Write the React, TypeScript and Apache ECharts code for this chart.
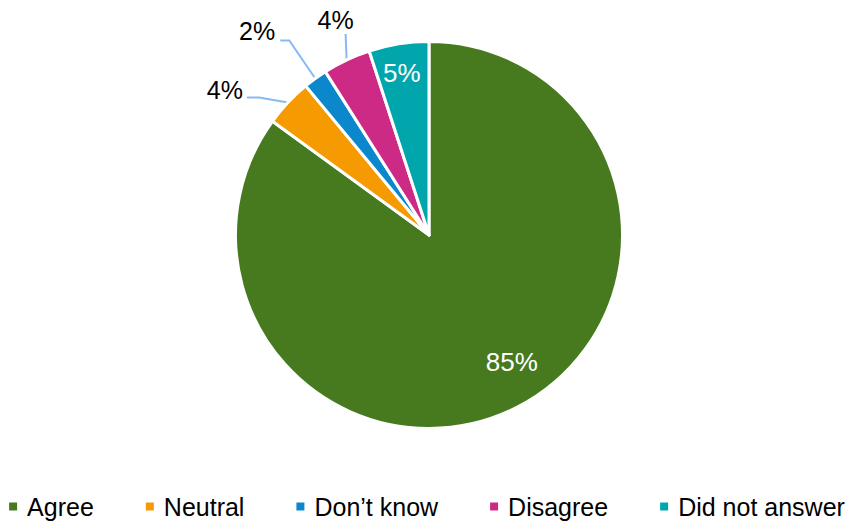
import React, { useEffect, useRef } from "react";
import * as echarts from "echarts";

const categories = ["Agree", "Neutral", "Don’t know", "Disagree", "Did not answer"];
const values = [85, 4, 2, 4, 5];
const colors = ["#477A1E", "#F59A00", "#0A88CB", "#CC2A85", "#00A6AC"];

const FONT = "Liberation Sans, Arial, sans-serif";
const CX = 429;
const CY = 235;
const R = 193.5;

// label placement: inside labels (radius fraction, angle offset in degrees)
const insidePlacement: Record<number, { frac: number; dAngle: number }> = {
  0: { frac: 0.785, dAngle: -6 },
  4: { frac: 0.85, dAngle: -0.5 },
};
// outside labels: leader-line bends relative to the slice edge point, and label anchor
const outsidePlacement: Record<
  number,
  { bend: number[]; end: number[]; label: number[]; align: string }
> = {
  1: { bend: [-29, -5], end: [-41, -5], label: [-45, -13], align: "right" },
  2: { bend: [-26, -38], end: [-35, -38], label: [-40, -47], align: "right" },
  3: { bend: [-0.5, -13], end: [-1, -26], label: [-11, -40], align: "center" },
};

function edgePoint(i: number): number[] {
  const total = values.reduce((a, b) => a + b, 0);
  let before = 0;
  for (let k = 0; k < i; k++) before += values[k];
  const mid = ((before + values[i] / 2) / total) * Math.PI * 2;
  return [CX + R * Math.sin(mid), CY - R * Math.cos(mid)];
}

export default function App() {
  const ref = useRef<HTMLDivElement>(null);
  useEffect(() => {
    document.body.style.margin = "0";
    if (!ref.current) return;
    const chart = echarts.init(ref.current, undefined, { renderer: "svg" });
    const data = categories.map((name, i) => {
      const inside = i === 0 || i === 4;
      return {
        name,
        value: values[i],
        itemStyle: { color: colors[i] },
        label: inside
          ? { position: "inside", color: "#ffffff", fontSize: 26 }
          : { position: "outside", color: "#000000", fontSize: 25 },
        labelLine: { show: !inside },
      };
    });
    chart.setOption({
      animation: false,
      legend: {
        data: categories,
        left: "center",
        top: 489,
        icon: "rect",
        itemWidth: 10,
        itemHeight: 10,
        itemGap: 50,
        textStyle: {
          fontSize: 25,
          fontFamily: FONT,
          color: "#000000",
          padding: [0, 0, 0, 4],
        },
      },
      series: [
        {
          type: "pie",
          center: [CX, CY],
          radius: R,
          startAngle: 90,
          clockwise: true,
          avoidLabelOverlap: false,
          itemStyle: { borderColor: "#ffffff", borderWidth: 3 },
          label: {
            show: true,
            fontFamily: FONT,
            formatter: (p: any) => p.value + "%",
          },
          labelLine: {
            show: true,
            length: 20,
            length2: 10,
            lineStyle: { color: "#85BAF5", width: 2 },
          },
          emphasis: { disabled: true },
          labelLayout: (params: any) => {
            const i = params.dataIndex;
            if (insidePlacement[i]) {
              const pl = insidePlacement[i];
              const lr = params.labelRect;
              const lx = lr.x + lr.width / 2 - CX;
              const ly = lr.y + lr.height / 2 - CY;
              const ang = Math.atan2(lx, -ly) + (pl.dAngle * Math.PI) / 180;
              return {
                x: CX + R * pl.frac * Math.sin(ang),
                y: CY - R * pl.frac * Math.cos(ang),
                align: "center",
                verticalAlign: "middle",
              };
            }
            const op = outsidePlacement[i];
            if (!op) return {};
            const pts = params.labelLinePoints;
            const e = pts && pts[0] ? pts[0] : edgePoint(i);
            return {
              x: e[0] + op.label[0],
              y: e[1] + op.label[1],
              align: op.align,
              verticalAlign: "middle",
              labelLinePoints: [
                [e[0], e[1]],
                [e[0] + op.bend[0], e[1] + op.bend[1]],
                [e[0] + op.end[0], e[1] + op.end[1]],
              ],
            };
          },
          data,
        },
      ],
    });
    return () => chart.dispose();
  }, []);
  return <div ref={ref} style={{ width: 852, height: 523 }} />;
}
